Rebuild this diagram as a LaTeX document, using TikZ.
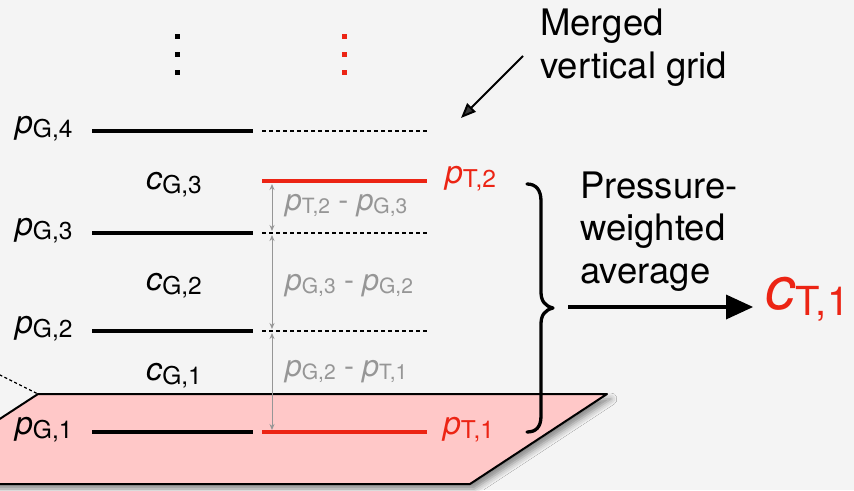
\documentclass[tikz,border=0pt]{standalone}
\usepackage{fontspec}
\setmainfont{TeX Gyre Heros}
\usetikzlibrary{arrows.meta,shadows.blur,calc}
\definecolor{bgc}{RGB}{244,244,244}
\definecolor{redc}{RGB}{236,36,20}
\definecolor{pinkc}{RGB}{255,200,200}
\definecolor{grayc}{RGB}{150,150,150}
\newcommand\plab[2]{\textit{#1}\raisebox{-4pt}{\fontsize{24.5}{24.5}\selectfont #2}}
\newcommand\glab[2]{\textit{#1}\raisebox{-3pt}{\fontsize{21}{21}\selectfont #2}}
\tikzset{
  glevel/.style={line width=4.5pt},
  tlevel/.style={line width=4.5pt, draw=redc},
  mlevel/.style={line width=1.8pt, dash pattern=on 4pt off 3pt},
  lab/.style={inner sep=0pt, font=\fontsize{32}{32}\selectfont},
  glabs/.style={inner sep=0pt, font=\fontsize{30}{30}\selectfont, text=grayc, anchor=mid west},
  garrow/.style={draw=grayc, line width=1pt, {Stealth[length=6pt,width=5pt]}-{Stealth[length=6pt,width=5pt]}},
  dotsq/.style={minimum size=5pt, inner sep=0pt, fill=#1},
  note/.style={inner sep=0pt, align=left, anchor=base west, font=\fontsize{36.5}{42.5}\selectfont}
}
\begin{document}
\begin{tikzpicture}[x=1pt,y=-1pt]
\useasboundingbox (0,0) rectangle (854,490);
\clip (0,0) rectangle (854,490);
\fill[bgc] (0,0) rectangle (854,490);

% ground surface
\coordinate (sTL) at (38,394);
\coordinate (sTR) at (607,394);
\coordinate (sBR) at (470,484);
\coordinate (sBL) at (-100,484);
\coordinate (sPer) at (-30,360);
\draw[line width=1.2pt, dash pattern=on 3pt off 2.5pt] (sPer) -- (sTL);
\filldraw[fill=pinkc, draw=black, line width=2pt, line join=round,
  blur shadow={shadow xshift=4pt, shadow yshift=-5pt, shadow blur radius=6pt, shadow opacity=45}]
  (sTL) -- (sTR) -- (sBR) -- (sBL) -- cycle;

% dots
\foreach \yy/\nn in {36/a,54/b,72/c}{
  \node[dotsq=black] (dk\nn) at (177,\yy) {};
  \node[dotsq=redc] (dr\nn) at (344,\yy) {};
}

% level coordinates
\foreach \nm/\yy in {g4/131,g3/233,g2/331,g1/432,t2/181}{
  \coordinate (\nm L) at (92,\yy);
  \coordinate (\nm M) at (253,\yy);
  \coordinate (\nm N) at (262,\yy);
  \coordinate (\nm R) at (427,\yy);
}
\draw[glevel] (g4L) -- (g4M);
\draw[glevel] (g3L) -- (g3M);
\draw[glevel] (g2L) -- (g2M);
\draw[glevel] (g1L) -- (g1M);
\draw[mlevel] (g4N) -- (g4R);
\draw[mlevel] (g3N) -- (g3R);
\draw[mlevel] (g2N) -- (g2R);
\draw[tlevel] (g1N) -- (g1R);
\draw[tlevel] (t2N) -- (t2R);

% labels
\node[lab, anchor=mid west] (pg4) at (15,131) {\plab{p}{G,4}};
\node[lab, anchor=mid west] (pg3) at (15,233) {\plab{p}{G,3}};
\node[lab, anchor=mid west] (pg2) at (15,331) {\plab{p}{G,2}};
\node[lab, anchor=mid west] (pg1) at (15,432) {\plab{p}{G,1}};
\node[lab, anchor=mid west, text=redc] (pt2) at (445,181) {\plab{p}{T,2}};
\node[lab, anchor=mid west, text=redc] (pt1) at (443,432) {\plab{p}{T,1}};
\node[lab, anchor=mid west] (cg3) at (146,187) {\plab{c}{G,3}};
\node[lab, anchor=mid west] (cg2) at (146,288) {\plab{c}{G,2}};
\node[lab, anchor=mid west] (cg1) at (146,378) {\plab{c}{G,1}};

% differences
\coordinate (a1t) at (272,184);
\coordinate (a1b) at (272,231);
\coordinate (a2t) at (272,235);
\coordinate (a2b) at (272,329);
\coordinate (a3t) at (272,333);
\coordinate (a3b) at (272,430);
\draw[garrow] (a1t) -- (a1b);
\draw[garrow] (a2t) -- (a2b);
\draw[garrow] (a3t) -- (a3b);
\node[glabs] (d1) at (285,208) {\glab{p}{T,2} - \glab{p}{G,3}};
\node[glabs] (d2) at (285,288) {\glab{p}{G,3} - \glab{p}{G,2}};
\node[glabs] (d3) at (285,374) {\glab{p}{G,2} - \glab{p}{T,1}};

% brace
\draw[line width=3.3pt, line cap=round, line join=round]
  (527,184) .. controls (536,184) and (541,190) .. (541,201) -- (541,292)
  .. controls (541,301) and (545,306) .. (553,308)
  .. controls (545,310) and (541,315) .. (541,324) -- (541,416)
  .. controls (541,427) and (536,432) .. (527,432);

% average arrow
\node[note] (pwa) at (580,283) {Pressure-\\weighted\\average};
\coordinate (avs) at (568,307);
\coordinate (ave) at (753,307);
\node[inner sep=0pt, anchor=mid west, text=redc, font=\fontsize{60}{60}\selectfont] (ct1)
  at (765,307) {\textit{c}\raisebox{-6pt}{\fontsize{40}{40}\selectfont T,1}};
\draw[line width=4.5pt] (avs) -- ($(ave)+(-20,0)$);
\fill (ave) -- ($(ave)+(-27,-12.5)$) -- ($(ave)+(-27,12.5)$) -- cycle;

% merged grid note
\node[note] (mg) at (540,78) {Merged\\vertical grid};
\coordinate (mgs) at (523,56);
\coordinate (mge) at (461,118);
\draw[line width=2pt, -{Triangle[length=15pt,width=12pt]}] (mgs) -- (mge);
\end{tikzpicture}
\end{document}
